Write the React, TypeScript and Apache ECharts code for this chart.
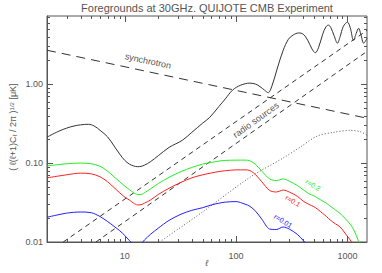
import React, { useEffect, useRef } from "react";
import * as echarts from "echarts";

const titleText = "Foregrounds at 30GHz. QUIJOTE CMB Experiment";
const xTitle = "ℓ";

const X_MIN = 2;
const X_MAX = 1500;
const Y_MIN = 0.01;
const Y_MAX = 7.3;

const xMajorTicks = [10, 100, 1000];
const xMinorTicks = [2, 3, 4, 5, 6, 7, 8, 9, 20, 30, 40, 50, 60, 70, 80, 90, 200, 300, 400, 500, 600, 700, 800, 900];
const yMajorTicks = [0.01, 0.1, 1];
const yMinorTicks = [0.02, 0.03, 0.04, 0.05, 0.06, 0.07, 0.08, 0.09, 0.2, 0.3, 0.4, 0.5, 0.6, 0.7, 0.8, 0.9, 2, 3, 4, 5, 6, 7];

// CMB (black solid)
const ellCMB = [2, 2.5, 3, 3.5, 4, 4.7, 5.3, 6, 7, 8, 9, 10, 11, 12, 13, 14, 15, 17, 20, 25, 33, 40, 50, 58, 70, 80, 93, 110, 133, 150, 164, 180, 194, 210, 235, 265, 295, 326, 365, 401, 440, 480, 515, 550, 600, 640, 675, 710, 760, 814, 860, 920, 1000, 1060, 1135, 1200, 1260, 1320, 1400, 1450, 1500];
const cmbPower = [0.213, 0.25, 0.277, 0.295, 0.305, 0.31, 0.295, 0.26, 0.215, 0.165, 0.13, 0.108, 0.097, 0.092, 0.09, 0.091, 0.094, 0.104, 0.124, 0.158, 0.195, 0.245, 0.32, 0.38, 0.52, 0.65, 0.84, 0.97, 1.03, 1.0, 0.93, 0.84, 0.78, 0.95, 1.6, 2.69, 3.7, 4.2, 4.45, 4.3, 3.6, 2.8, 2.5, 2.9, 4.3, 5.3, 5.6, 5.2, 4.1, 3.3, 4.0, 5.4, 6.1, 5.2, 3.6, 4.4, 5.1, 4.3, 3.3, 3.5, 3.8];

// B-mode curves for r = 0.2, 0.1, 0.01
const ellR = [2, 3, 4, 5, 6, 7, 8, 9, 10, 11, 12, 13, 14, 15, 17, 20, 25, 32, 40, 50, 60, 70, 80, 100, 120, 133, 150, 170, 200, 230, 265, 300, 355, 400, 450, 500, 540, 600, 650, 700, 780, 860, 950, 1060, 1150, 1250, 1350];
const r02Power = [0.092, 0.098, 0.1, 0.098, 0.091, 0.079, 0.067, 0.058, 0.051, 0.046, 0.042, 0.04, 0.04, 0.042, 0.047, 0.055, 0.066, 0.078, 0.088, 0.097, 0.102, 0.106, 0.108, 0.109, 0.109, 0.107, 0.096, 0.079, 0.063, 0.06, 0.063, 0.059, 0.052, 0.046, 0.041, 0.0385, 0.036, 0.033, 0.031, 0.0285, 0.0255, 0.023, 0.02, 0.0168, 0.014, 0.0105, 0.008];
const r01Power = [0.065, 0.071, 0.0745, 0.073, 0.067, 0.058, 0.049, 0.042, 0.037, 0.034, 0.031, 0.0295, 0.0297, 0.031, 0.034, 0.04, 0.048, 0.057, 0.065, 0.071, 0.075, 0.078, 0.08, 0.082, 0.082, 0.0805, 0.071, 0.058, 0.045, 0.043, 0.0455, 0.043, 0.038, 0.033, 0.03, 0.028, 0.026, 0.023, 0.021, 0.019, 0.017, 0.0155, 0.013, 0.0106, 0.0088, 0.007, 0.006];
const r001Power = [0.0206, 0.0232, 0.024, 0.0235, 0.021, 0.0182, 0.0158, 0.0139, 0.0121, 0.0104, 0.0094, 0.009, 0.0095, 0.0106, 0.0125, 0.015, 0.0188, 0.0225, 0.0252, 0.0272, 0.0295, 0.031, 0.032, 0.0325, 0.0302, 0.0283, 0.0245, 0.0195, 0.0146, 0.0144, 0.0155, 0.0146, 0.0125, 0.0105, 0.0088, 0.0078, 0.007, 0.006, 0.0055, 0.005, 0.0045, 0.004, 0.0035, 0.003, 0.0027, 0.0023, 0.002];

// Synchrotron (long dashes)
const ellSync = [2, 1500];
const syncPower = [2.69, 0.37];

// Radio sources (two dashed lines)
const ellRadioHigh = [2.8, 1500];
const radioHighPower = [0.01, 4.8];
const ellRadioLow = [5.5, 1500];
const radioLowPower = [0.01, 2.6];

// Dotted curve
const ellDotted = [20.5, 50, 133, 265, 376, 537, 750, 1060, 1300, 1500];
const dottedPower = [0.01, 0.024, 0.066, 0.116, 0.159, 0.22, 0.245, 0.26, 0.25, 0.226];

const pairs = (xs: number[], ys: number[]) => xs.map((x, i) => [x, ys[i]]);

const AXIS_COLOR = "#555";
const TEXT_COLOR = "#555";
const FONT = "Liberation Sans, DejaVu Sans, sans-serif";
const MAJOR_LEN = 6;
const MINOR_LEN = 3;
const GRID = { left: 47, right: 15, top: 16, bottom: 31 };
const W = 382;
const H = 273;

function makeAxis(kind: "x" | "y", ticks: number[]) {
  return {
    type: "log",
    logBase: 10,
    min: kind === "x" ? X_MIN : Y_MIN,
    max: kind === "x" ? X_MAX : Y_MAX,
    silent: true,
    axisLine: { show: true, onZero: false, lineStyle: { color: AXIS_COLOR, width: 1 } },
    axisTick: { show: false },
    axisLabel: {
      show: true,
      customValues: ticks,
      color: TEXT_COLOR,
      fontSize: 9,
      fontFamily: FONT,
      margin: kind === "x" ? 9 : 4,
      formatter: (v: number) => (kind === "x" ? String(Math.round(v)) : Number(v).toFixed(2)),
    },
    splitLine: { show: false },
    minorTick: { show: false },
  };
}

function lineSeries(data: number[][], color: string, type: any, smooth: number | boolean, width = 1) {
  return {
    type: "line",
    data,
    showSymbol: false,
    symbol: "none",
    smooth,
    clip: true,
    silent: true,
    lineStyle: { color, width, type },
    emphasis: { disabled: true },
  };
}

function textEl(x: number, y: number, text: string, rotation: number, fill: string, font: string, extra: any = {}) {
  return { type: "text", x, y, rotation, style: { text, fill, font, align: "center", verticalAlign: "middle", ...extra } };
}

export default function App() {
  const ref = useRef<HTMLDivElement>(null);
  useEffect(() => {
    if (!ref.current) return;
    const chart = echarts.init(ref.current, undefined, { renderer: "svg" });
    chart.setOption({
      animation: false,
      backgroundColor: "#fff",
      grid: { ...GRID, containLabel: false, show: true, borderColor: AXIS_COLOR, borderWidth: 1, backgroundColor: "transparent" },
      xAxis: makeAxis("x", xMajorTicks),
      yAxis: makeAxis("y", yMajorTicks),
      series: [
        lineSeries(pairs(ellDotted, dottedPower), "#555", [1, 2], 0.3),
        lineSeries(pairs(ellSync, syncPower), "#333", [9, 6], false),
        lineSeries(pairs(ellRadioHigh, radioHighPower), "#333", [5, 4], false),
        lineSeries(pairs(ellRadioLow, radioLowPower), "#333", [5, 4], false),
        lineSeries(pairs(ellR, r02Power), "#22ee22", "solid", 0.3),
        lineSeries(pairs(ellR, r01Power), "#ff2020", "solid", 0.3),
        lineSeries(pairs(ellR, r001Power), "#2020ff", "solid", 0.3),
        lineSeries(pairs(ellCMB, cmbPower), "#333", "solid", 0.35),
      ],
    });

    // Pixel position of a data point through the chart's own log scales
    const gl = GRID.left, gr = W - GRID.right, gt = GRID.top, gb = H - GRID.bottom;
    const fallback = (x: number, y: number) => [
      gl + ((Math.log10(x) - Math.log10(X_MIN)) / (Math.log10(X_MAX) - Math.log10(X_MIN))) * (gr - gl),
      gb - ((Math.log10(y) - Math.log10(Y_MIN)) / (Math.log10(Y_MAX) - Math.log10(Y_MIN))) * (gb - gt),
    ];
    const toPx = (x: number, y: number): number[] => {
      try {
        const p: any = chart.convertToPixel({ gridIndex: 0 }, [x, y]);
        if (p && isFinite(p[0]) && isFinite(p[1])) return [p[0], p[1]];
      } catch (e) {
        /* use fallback */
      }
      return fallback(x, y);
    };
    const c0 = toPx(X_MIN, Y_MIN);
    const c1 = toPx(X_MAX, Y_MAX);
    const left = Math.round(c0[0]);
    const bottom = Math.round(c0[1]);
    const right = Math.round(c1[0]);
    const top = Math.round(c1[1]);
    const tickEls: any[] = [];
    const bar = (x: number, y: number, w: number, h: number) =>
      tickEls.push({ type: "rect", shape: { x, y, width: w, height: h }, style: { fill: AXIS_COLOR }, z: 100 });
    xMajorTicks.forEach((v) => { const x = Math.round(toPx(v, Y_MIN)[0]); bar(x, bottom - MAJOR_LEN, 1, MAJOR_LEN); bar(x, top, 1, MAJOR_LEN); });
    xMinorTicks.forEach((v) => { const x = Math.round(toPx(v, Y_MIN)[0]); bar(x, bottom - MINOR_LEN, 1, MINOR_LEN); bar(x, top, 1, MINOR_LEN); });
    yMajorTicks.forEach((v) => { const y = Math.round(toPx(X_MIN, v)[1]); bar(left, y, MAJOR_LEN, 1); bar(right - MAJOR_LEN, y, MAJOR_LEN, 1); });
    yMinorTicks.forEach((v) => { const y = Math.round(toPx(X_MIN, v)[1]); bar(left, y, MINOR_LEN, 1); bar(right - MINOR_LEN, y, MINOR_LEN, 1); });

    chart.setOption({
      graphic: [
        textEl(207, 8, titleText, 0, TEXT_COLOR, `11px ${FONT}`),
        textEl(207, 263, xTitle, 0, TEXT_COLOR, `italic 9px ${FONT}`),
        textEl(13, 127, "( ℓ(ℓ+1)C{s|ℓ} / 2π ){p|1/2} [μK]", Math.PI / 2, TEXT_COLOR, `9px ${FONT}`, {
          rich: {
            s: { fontSize: 6, fill: TEXT_COLOR, verticalAlign: "bottom", fontFamily: FONT },
            p: { fontSize: 6, fill: TEXT_COLOR, verticalAlign: "top", fontFamily: FONT },
          },
        }),
        textEl(148, 61, "synchrotron", -0.21, TEXT_COLOR, `9px ${FONT}`),
        textEl(256, 120, "radio sources", 0.62, TEXT_COLOR, `9px ${FONT}`),
        textEl(313, 185, "r=0.2", -0.55, "#22ee22", `7px ${FONT}`),
        textEl(293, 201, "r=0.1", -0.55, "#ff2020", `7px ${FONT}`),
        textEl(283, 221, "r=0.01", -0.55, "#2020ff", `7px ${FONT}`),
        ...tickEls,
      ],
    });

    return () => chart.dispose();
  }, []);
  return <div ref={ref} style={{ position: "fixed", left: 0, top: 0, width: 382, height: 273 }} />;
}
